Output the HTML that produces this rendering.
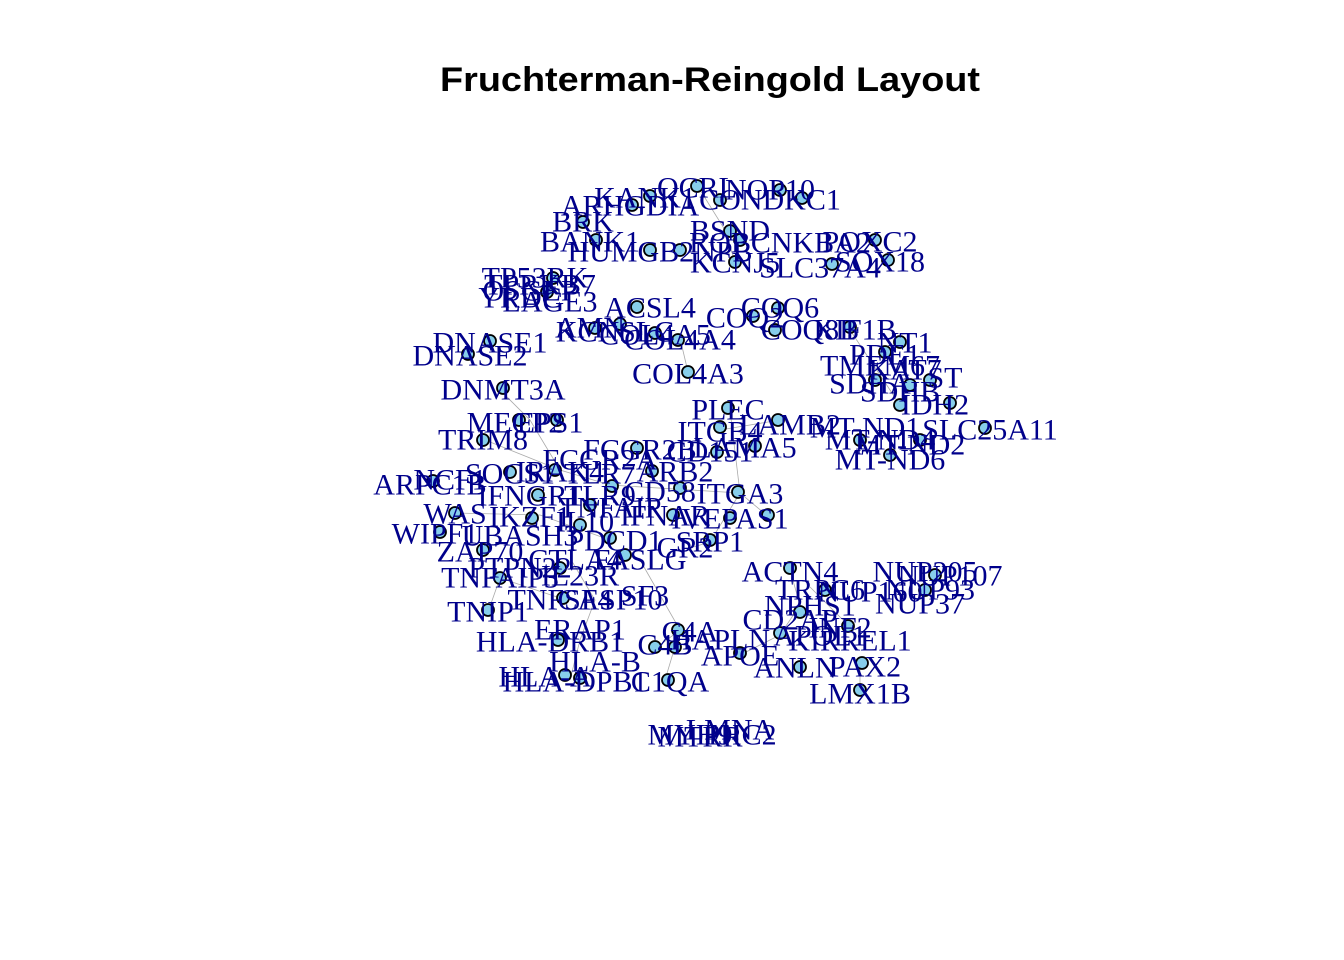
<!DOCTYPE html>
<html><head><meta charset="utf-8"><style>
html,body{margin:0;padding:0;background:#fff;}
svg{display:block}
.t{font-family:"Liberation Serif",serif;font-size:30px;fill:#00008B;text-anchor:middle;dominant-baseline:central}
.n{fill:#87CEEB;stroke:#000;stroke-width:1.8}
.e{stroke:#aaa;stroke-width:0.8;fill:none}
</style></head><body>
<svg width="1344" height="960" viewBox="0 0 1344 960" xmlns="http://www.w3.org/2000/svg">
<text x="440" y="80" textLength="540" lengthAdjust="spacingAndGlyphs" style="font-family:'Liberation Sans',sans-serif;font-weight:bold;font-size:34px;dominant-baseline:central">Fruchterman-Reingold Layout</text>
<g class="e">
<path d="M697 185L725 230L735 262"/><path d="M680 338L688 372"/><path d="M850 330L900 405"/>
<path d="M500 390L530 420L560 470L610 485"/><path d="M485 440L560 470"/><path d="M610 485L740 493L770 518"/>
<path d="M730 410L740 493"/><path d="M720 430L780 420"/><path d="M455 513L540 515L610 540"/>
<path d="M640 560L680 630L660 645"/><path d="M570 558L595 600L580 640"/><path d="M790 570L800 605L780 635L740 655"/>
<path d="M810 587L850 627"/><path d="M860 665L860 690"/><path d="M488 612L500 578L560 598"/>
<path d="M665 680L680 630"/><path d="M570 680L580 640"/><path d="M690 548L710 542L740 493"/>
</g>
<g>
<circle class="n" cx="697" cy="186" r="6"/><circle class="n" cx="780" cy="190" r="6"/><circle class="n" cx="802" cy="198" r="6"/>
<circle class="n" cx="650" cy="196" r="6"/><circle class="n" cx="632" cy="205" r="6"/><circle class="n" cx="720" cy="200" r="6"/>
<circle class="n" cx="583" cy="222" r="6"/><circle class="n" cx="730" cy="231" r="6"/><circle class="n" cx="596" cy="240" r="6"/>
<circle class="n" cx="650" cy="250" r="6"/><circle class="n" cx="680" cy="250" r="6"/><circle class="n" cx="740" cy="240" r="6"/>
<circle class="n" cx="875" cy="240" r="6"/><circle class="n" cx="888" cy="260" r="6"/><circle class="n" cx="735" cy="262" r="6"/>
<circle class="n" cx="832" cy="264" r="6"/><circle class="n" cx="553" cy="278" r="6"/><circle class="n" cx="547" cy="292" r="6"/>
<circle class="n" cx="637" cy="307" r="6"/><circle class="n" cx="753" cy="316" r="6"/><circle class="n" cx="778" cy="308" r="6"/>
<circle class="n" cx="595" cy="328" r="6"/><circle class="n" cx="620" cy="324" r="6"/><circle class="n" cx="655" cy="333" r="6"/>
<circle class="n" cx="678" cy="340" r="6"/><circle class="n" cx="775" cy="330" r="6"/><circle class="n" cx="850" cy="327" r="6"/>
<circle class="n" cx="900" cy="342" r="6"/><circle class="n" cx="885" cy="352" r="6"/><circle class="n" cx="490" cy="341" r="6"/>
<circle class="n" cx="468" cy="354" r="6"/><circle class="n" cx="688" cy="372" r="6"/><circle class="n" cx="503" cy="388" r="6"/>
<circle class="n" cx="875" cy="380" r="6"/><circle class="n" cx="910" cy="385" r="6"/><circle class="n" cx="930" cy="380" r="6"/>
<circle class="n" cx="900" cy="405" r="6"/><circle class="n" cx="950" cy="403" r="6"/><circle class="n" cx="985" cy="428" r="6"/>
<circle class="n" cx="519" cy="420" r="6"/><circle class="n" cx="557" cy="420" r="6"/><circle class="n" cx="728" cy="408" r="6"/>
<circle class="n" cx="720" cy="427" r="6"/><circle class="n" cx="778" cy="420" r="6"/><circle class="n" cx="483" cy="440" r="6"/>
<circle class="n" cx="637" cy="448" r="6"/><circle class="n" cx="717" cy="452" r="6"/><circle class="n" cx="755" cy="446" r="6"/>
<circle class="n" cx="860" cy="440" r="6"/><circle class="n" cx="890" cy="455" r="6"/><circle class="n" cx="920" cy="440" r="6"/>
<circle class="n" cx="433" cy="481" r="6"/><circle class="n" cx="510" cy="472" r="6"/><circle class="n" cx="555" cy="470" r="6"/>
<circle class="n" cx="652" cy="471" r="6"/><circle class="n" cx="612" cy="486" r="6"/><circle class="n" cx="680" cy="488" r="6"/>
<circle class="n" cx="738" cy="492" r="6"/><circle class="n" cx="538" cy="495" r="6"/><circle class="n" cx="590" cy="505" r="6"/>
<circle class="n" cx="455" cy="513" r="6"/><circle class="n" cx="532" cy="518" r="6"/><circle class="n" cx="580" cy="525" r="6"/>
<circle class="n" cx="673" cy="515" r="6"/><circle class="n" cx="730" cy="518" r="6"/><circle class="n" cx="768" cy="515" r="6"/>
<circle class="n" cx="440" cy="532" r="6"/><circle class="n" cx="610" cy="538" r="6"/><circle class="n" cx="710" cy="540" r="6"/>
<circle class="n" cx="483" cy="550" r="6"/><circle class="n" cx="625" cy="555" r="6"/><circle class="n" cx="560" cy="568" r="6"/>
<circle class="n" cx="500" cy="578" r="6"/><circle class="n" cx="790" cy="568" r="6"/><circle class="n" cx="825" cy="590" r="6"/>
<circle class="n" cx="935" cy="575" r="6"/><circle class="n" cx="925" cy="590" r="6"/><circle class="n" cx="563" cy="598" r="6"/>
<circle class="n" cx="488" cy="610" r="6"/><circle class="n" cx="800" cy="612" r="6"/><circle class="n" cx="780" cy="633" r="6"/>
<circle class="n" cx="848" cy="626" r="6"/><circle class="n" cx="678" cy="630" r="6"/><circle class="n" cx="558" cy="640" r="6"/>
<circle class="n" cx="655" cy="647" r="6"/><circle class="n" cx="675" cy="647" r="6"/><circle class="n" cx="740" cy="653" r="6"/>
<circle class="n" cx="800" cy="667" r="6"/><circle class="n" cx="862" cy="663" r="6"/><circle class="n" cx="580" cy="678" r="6"/>
<circle class="n" cx="565" cy="675" r="6"/><circle class="n" cx="668" cy="680" r="6"/><circle class="n" cx="860" cy="690" r="6"/>
</g>
<g class="t">
<text x="697" y="188">OCRL</text><text x="770" y="190">NOP10</text><text x="645" y="198">KANK1</text>
<text x="770" y="200">CONDKC1</text><text x="630" y="206">ARHGDIA</text><text x="583" y="222">BRK</text>
<text x="730" y="231">BSND</text><text x="590" y="242">BANK1</text><text x="660" y="252">HUMGB2NPB</text>
<text x="780" y="243">ROBCNKBA2</text><text x="870" y="242">POXC2</text><text x="880" y="262">SOX18</text>
<text x="735" y="263">KCNJ5</text><text x="820" y="268">SLC37A4</text>
<text x="535" y="278">TP53RK</text><text x="540" y="285">TPRKB7</text><text x="530" y="291">OSGEP</text>
<text x="520" y="298">YRDC</text><text x="550" y="302">LAGE3</text>
<text x="650" y="308">ACSL4</text><text x="780" y="308">COQ6</text><text x="745" y="318">COQ2</text>
<text x="590" y="328">AMN</text><text x="615" y="332">KCNSLC</text><text x="655" y="335">COL4A5</text>
<text x="680" y="340">COL4A4</text><text x="810" y="330">COQ8B</text><text x="855" y="330">KIF1B</text>
<text x="905" y="343">NT1</text><text x="885" y="355">PDE1</text>
<text x="490" y="343">DNASE1</text><text x="470" y="356">DNASE2</text><text x="688" y="374">COL4A3</text>
<text x="880" y="366">TMEM67</text><text x="905" y="370">KAT7</text><text x="870" y="384">SDHA</text>
<text x="945" y="378">ST</text><text x="900" y="392">SDHB</text><text x="935" y="405">IDH2</text>
<text x="503" y="390">DNMT3A</text><text x="515" y="423">MECP2</text><text x="550" y="423">EPS1</text>
<text x="728" y="410">PLEC</text><text x="720" y="432">ITGB4</text><text x="790" y="425">LAMB2</text>
<text x="865" y="428">MT-ND1</text><text x="990" y="430">SLC25A11</text><text x="880" y="440">MT-ND4</text>
<text x="910" y="445">MT-ND2</text><text x="890" y="460">MT-ND6</text><text x="483" y="440">TRIM8</text>
<text x="640" y="450">FCGR2B</text><text x="710" y="452">CD151</text><text x="745" y="448">LAMA5</text>
<text x="600" y="460">FCGR2A</text>
<text x="430" y="485">ARPC1B</text><text x="450" y="480">NCF1</text><text x="510" y="474">SOCS1</text>
<text x="560" y="472">IRAK4</text><text x="600" y="474">TLR7</text><text x="675" y="472">ARB2</text>
<text x="530" y="496">IFNGR1</text><text x="600" y="496">TLR9</text><text x="660" y="492">CD58</text>
<text x="740" y="494">ITGA3</text><text x="610" y="508">TNFAIP</text>
<text x="455" y="514">WAS</text><text x="530" y="517">IKZF1</text><text x="585" y="522">IL10</text>
<text x="665" y="516">IFNAR</text><text x="730" y="519">IVEPAS1</text>
<text x="435" y="534">WIPF1</text><text x="520" y="536">UBASH3</text><text x="615" y="541">PDCD1</text>
<text x="685" y="548">GR2</text><text x="710" y="542">SRP1</text>
<text x="480" y="552">ZAP70</text><text x="575" y="560">CTLA4</text><text x="640" y="560">FASLG</text>
<text x="520" y="568">PTPN22</text><text x="580" y="576">IL23R</text><text x="790" y="572">ACTN4</text>
<text x="925" y="572">NUP205</text><text x="950" y="576">NUP107</text><text x="930" y="590">NUP93</text>
<text x="920" y="604">NUP37</text><text x="820" y="590">TRPC6</text><text x="870" y="592">NUP160</text>
<text x="810" y="606">NPHS1</text><text x="500" y="578">TNFAIP3</text><text x="560" y="600">TNFSF4</text>
<text x="610" y="600">CASP10</text><text x="645" y="596">SF3</text><text x="488" y="612">TNIP1</text>
<text x="790" y="620">CD2AP</text><text x="840" y="628">INF2</text><text x="820" y="636">APOL1</text>
<text x="850" y="641">KIRREL1</text><text x="580" y="630">ERAP1</text><text x="690" y="632">C4A</text>
<text x="550" y="642">HLA-DRB1</text><text x="665" y="645">C4B</text><text x="720" y="640">HAPLN</text>
<text x="740" y="656">APOE</text><text x="795" y="668">ANLN</text><text x="865" y="667">PAX2</text>
<text x="595" y="662">HLA-B</text><text x="545" y="677">HLA-A</text><text x="575" y="682">HLA-DPB1</text>
<text x="670" y="682">C1QA</text><text x="860" y="694">LMX1B</text>
<text x="690" y="735">MYH9</text><text x="730" y="730">LMNA</text><text x="700" y="737">MTRR</text><text x="740" y="735">PHC2</text>
</g>
</svg>
</body></html>
